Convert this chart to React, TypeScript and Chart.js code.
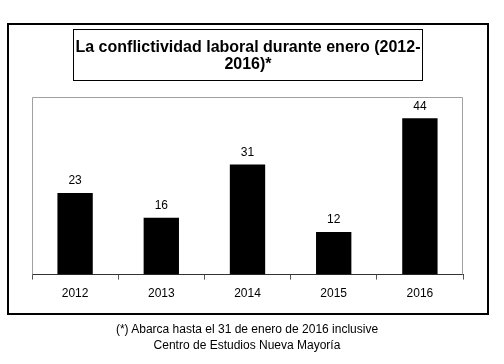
import React, { useEffect, useRef } from "react";
import { Chart, registerables } from "chart.js";

Chart.register(...registerables);

const categories = ["2012", "2013", "2014", "2015", "2016"];
const values = [23, 16, 31, 12, 44];
const titleLines = ["La conflictividad laboral durante enero (2012-", "2016)*"];
const captionLines = [
  "(*) Abarca hasta el 31 de enero de 2016 inclusive",
  "Centro de Estudios Nueva Mayoría",
];

const FONT = "'Liberation Sans', Arial, Helvetica, sans-serif";

const frameAndLabels = {
  id: "frameAndLabels",
  beforeDatasetsDraw(chart: any) {
    const { ctx, chartArea } = chart;
    ctx.save();
    ctx.strokeStyle = "#a0a0a0";
    ctx.lineWidth = 1;
    ctx.beginPath();
    ctx.moveTo(chartArea.left + 0.5, chartArea.bottom);
    ctx.lineTo(chartArea.left + 0.5, chartArea.top + 0.5);
    ctx.lineTo(chartArea.right - 0.5, chartArea.top + 0.5);
    ctx.lineTo(chartArea.right - 0.5, chartArea.bottom);
    ctx.stroke();
    ctx.restore();
  },
  afterDatasetsDraw(chart: any) {
    const { ctx } = chart;
    const meta = chart.getDatasetMeta(0);
    ctx.save();
    ctx.fillStyle = "#000";
    ctx.font = `12px ${FONT}`;
    ctx.textAlign = "center";
    ctx.textBaseline = "bottom";
    meta.data.forEach((bar: any, i: number) => {
      ctx.fillText(String(values[i]), bar.x, bar.y - 6);
    });
    ctx.restore();
  },
};

export default function App() {
  const ref = useRef<HTMLCanvasElement>(null);
  useEffect(() => {
    if (!ref.current) return;
    const chart = new Chart(ref.current, {
      type: "bar",
      data: {
        labels: categories,
        datasets: [
          {
            data: values,
            backgroundColor: "#000",
            borderWidth: 0,
            barPercentage: 0.41,
            categoryPercentage: 1,
          },
        ],
      },
      options: {
        responsive: false,
        animation: false,
        layout: { padding: { left: 32, right: 41, top: 97, bottom: 56 } },
        plugins: { legend: { display: false }, tooltip: { enabled: false }, title: { display: false } },
        scales: {
          x: {
            grid: {
              offset: true,
              drawOnChartArea: false,
              drawTicks: true,
              tickLength: 5,
              color: "#555",
            },
            border: { display: true, color: "#333", width: 1 },
            ticks: { color: "#000", font: { size: 12, family: FONT }, padding: 7 },
          },
          y: {
            display: false,
            min: 0,
            max: 50,
          },
        },
      },
      plugins: [frameAndLabels],
    });
    return () => chart.destroy();
  }, []);

  return (
    <div style={{ position: "absolute", left: 0, top: 0, width: 504, height: 364, background: "#fff", fontFamily: FONT }}>
      <canvas ref={ref} width={504} height={364} style={{ position: "absolute", left: 0, top: 0 }} />
      <div
        style={{
          position: "absolute",
          left: 7,
          top: 23,
          width: 482,
          height: 292,
          border: "2px solid #000",
          boxSizing: "border-box",
        }}
      />
      <div
        style={{
          position: "absolute",
          left: 73,
          top: 29,
          width: 350,
          height: 52,
          border: "1px solid #000",
          boxSizing: "border-box",
          display: "flex",
          flexDirection: "column",
          justifyContent: "center",
          alignItems: "center",
          fontWeight: "bold",
          fontSize: 16,
          lineHeight: "17px",
          color: "#000",
          whiteSpace: "nowrap",
        }}
      >
        {titleLines.map((t, i) => (
          <div key={i}>{t}</div>
        ))}
      </div>
      <div
        style={{
          position: "absolute",
          left: 0,
          top: 321,
          width: 494,
          textAlign: "center",
          fontSize: 12,
          lineHeight: "16px",
          color: "#000",
        }}
      >
        {captionLines.map((t, i) => (
          <div key={i}>{t}</div>
        ))}
      </div>
    </div>
  );
}
